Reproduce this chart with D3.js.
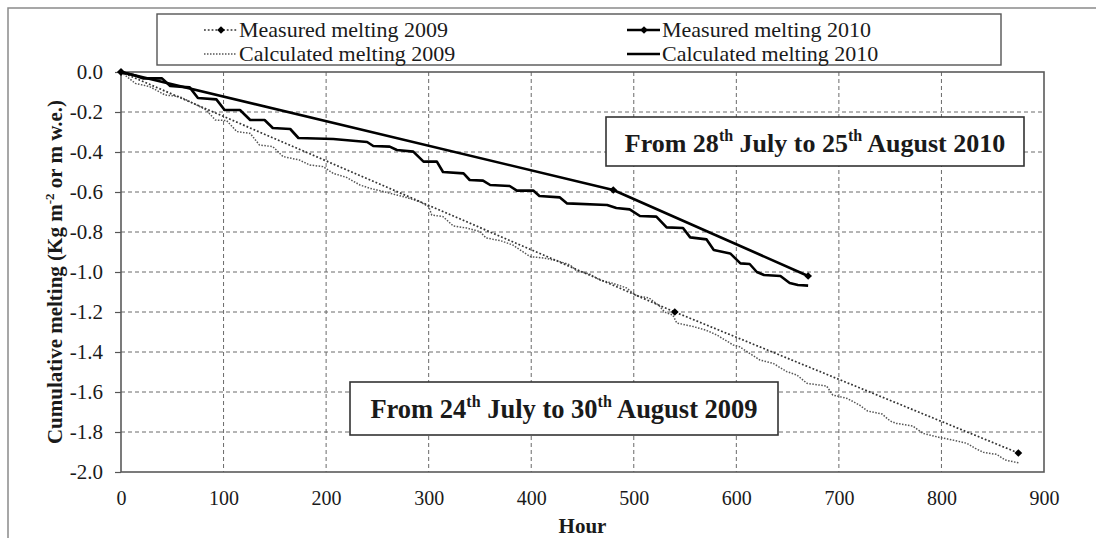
<!DOCTYPE html>
<html>
<head>
<meta charset="utf-8">
<script src="https://cdn.jsdelivr.net/npm/d3@7"></script>
<style>
  html, body { margin: 0; padding: 0; background: #fff; }
  svg { display: block; }
  text { font-family: "Liberation Serif", "Times New Roman", serif; fill: #1a1a1a; }
</style>
</head>
<body>
<svg id="chart" width="1096" height="538"></svg>
<script>
// Axis ticks
const xTicks = [0, 100, 200, 300, 400, 500, 600, 700, 800, 900];
const yTicks = [0, -0.2, -0.4, -0.6, -0.8, -1.0, -1.2, -1.4, -1.6, -1.8, -2.0];

// Measured melting (stake readings)
const measHours2009 = [0, 540, 875];
const measValues2009 = [0, -1.2, -1.905];
const measHours2010 = [0, 480, 670];
const measValues2010 = [0, -0.59, -1.02];

// Calculated cumulative melting, 2009 season
const calcHours2009 = [0, 14, 28, 43, 57, 74, 83, 92, 103, 113, 126, 135, 148, 158, 174, 184, 197, 207, 220, 233,
  243, 256, 265, 278, 291, 300, 303, 314, 324, 337, 350, 356, 370, 382, 399, 412, 425, 438, 444, 457,
  467, 480, 493, 503, 515, 525, 530, 538, 542, 558, 570, 581, 597, 603, 613, 623, 636, 649, 659, 669,
  688, 694, 708, 720, 728, 742, 750, 756, 772, 782, 798, 811, 825, 833, 841, 854, 862, 876];
const calcValues2009 = [0, -0.057, -0.073, -0.115, -0.123, -0.165, -0.19, -0.24, -0.243, -0.298, -0.307, -0.365, -0.373, -0.423, -0.44, -0.465, -0.473, -0.507, -0.527, -0.565,
  -0.582, -0.598, -0.61, -0.627, -0.648, -0.673, -0.715, -0.723, -0.77, -0.78, -0.798, -0.83, -0.843, -0.865, -0.923, -0.93, -0.943, -0.965, -0.993, -1.01,
  -1.04, -1.057, -1.08, -1.12, -1.13, -1.17, -1.2, -1.215, -1.255, -1.273, -1.29, -1.315, -1.365, -1.373, -1.407, -1.44, -1.457, -1.498, -1.515, -1.557,
  -1.57, -1.615, -1.632, -1.665, -1.695, -1.71, -1.745, -1.757, -1.77, -1.807, -1.827, -1.84, -1.857, -1.882, -1.902, -1.912, -1.94, -1.955];

// Calculated cumulative melting, 2010 season
const calcHours2010 = [0, 12, 22, 40, 48, 67, 75, 93, 101, 116, 126, 140, 148, 165, 173, 207, 240, 246, 262, 269,
  285, 295, 308, 314, 334, 340, 353, 360, 379, 386, 402, 408, 428, 435, 474, 483, 496, 506, 522, 532,
  548, 555, 571, 578, 594, 604, 613, 620, 627, 643, 652, 660, 670];
const calcValues2010 = [0, -0.015, -0.032, -0.032, -0.07, -0.077, -0.13, -0.137, -0.19, -0.19, -0.24, -0.24, -0.28, -0.285, -0.33, -0.335, -0.35, -0.37, -0.373, -0.39,
  -0.398, -0.448, -0.448, -0.5, -0.507, -0.54, -0.543, -0.565, -0.57, -0.593, -0.593, -0.62, -0.627, -0.657, -0.665, -0.68, -0.687, -0.72, -0.723, -0.777,
  -0.78, -0.827, -0.837, -0.89, -0.907, -0.957, -0.96, -1.0, -1.015, -1.02, -1.055, -1.065, -1.068];

// Legend entries and period labels
const legendLabels = ["Measured melting 2009", "Calculated melting 2009", "Measured melting 2010", "Calculated melting 2010"];
const period2010 = [["From 28", false], ["th", true], [" July to 25", false], ["th", true], [" August 2010", false]];
const period2009 = [["From 24", false], ["th", true], [" July to 30", false], ["th", true], [" August 2009", false]];

const SERIF = '"Liberation Serif", "Times New Roman", serif';
const svg = d3.select("#chart");
const W = 1096, H = 538;
const plot = { left: 121, right: 1044, top: 72, bottom: 472 };

const x = d3.scaleLinear().domain([0, 900]).range([plot.left, plot.right]);
const y = d3.scaleLinear().domain([-2, 0]).range([plot.bottom, plot.top]);

const zip = (hs, vs) => hs.map((h, i) => [h, vs[i]]);
const line = d3.line().x(d => x(d[0])).y(d => y(d[1]));

// Outer figure frame (only its left and top edges fall inside the page)
svg.append("rect")
  .attr("x", 8).attr("y", 8).attr("width", W + 20).attr("height", H + 20)
  .attr("fill", "none").attr("stroke", "#8a8a8a").attr("stroke-width", 1.5);

// Dashed gridlines
const grid = svg.append("g");
grid.selectAll("line.h").data(yTicks.filter(v => v > -2 && v < 0)).join("line")
  .attr("x1", plot.left).attr("x2", plot.right)
  .attr("y1", d => y(d)).attr("y2", d => y(d))
  .attr("stroke", "#6a6a6a").attr("stroke-width", 1).attr("stroke-dasharray", "4,3");
grid.selectAll("line.v").data(xTicks.filter(v => v > 0 && v < 900)).join("line")
  .attr("x1", d => x(d)).attr("x2", d => x(d))
  .attr("y1", plot.top).attr("y2", plot.bottom)
  .attr("stroke", "#6a6a6a").attr("stroke-width", 1).attr("stroke-dasharray", "4,3");

// Axes (plain hyphen for negative numbers)
const fmtY = d => d3.format(".1f")(d).replace("\u2212", "-");
const yAxis = d3.axisLeft(y).tickValues(yTicks).tickFormat(fmtY).tickSize(6).tickPadding(12);
const gy = svg.append("g").attr("transform", `translate(${plot.left},0)`).call(yAxis)
  .attr("font-family", SERIF).attr("font-size", 21);
gy.select(".domain").remove();
gy.selectAll(".tick line").attr("stroke", "#555").attr("stroke-width", 1.2);
gy.selectAll(".tick text").style("font-family", SERIF).style("font-size", "21px").attr("fill", "#1a1a1a");

const xAxis = d3.axisBottom(x).tickValues(xTicks).tickFormat(d3.format("d")).tickSize(0).tickPadding(19);
const gx = svg.append("g").attr("transform", `translate(0,${plot.bottom})`).call(xAxis)
  .attr("font-family", SERIF).attr("font-size", 20);
gx.select(".domain").remove();
gx.selectAll(".tick text").style("font-family", SERIF).style("font-size", "20px").attr("fill", "#1a1a1a");

// Plot frame
svg.append("rect")
  .attr("x", plot.left).attr("y", plot.top)
  .attr("width", plot.right - plot.left).attr("height", plot.bottom - plot.top)
  .attr("fill", "none").attr("stroke", "#5a5a5a").attr("stroke-width", 1.6);

// Series
const series = svg.append("g");
series.append("path").datum(zip(calcHours2009, calcValues2009))
  .attr("d", line).attr("fill", "none")
  .attr("stroke", "#555").attr("stroke-width", 1.5).attr("stroke-dasharray", "1.5,1.5");
series.append("path").datum(zip(measHours2009, measValues2009))
  .attr("d", line).attr("fill", "none")
  .attr("stroke", "#333").attr("stroke-width", 1.7).attr("stroke-dasharray", "1.8,2");
series.append("path").datum(zip(calcHours2010, calcValues2010))
  .attr("d", line).attr("fill", "none")
  .attr("stroke", "#000").attr("stroke-width", 2.6).attr("stroke-linejoin", "round");
series.append("path").datum(zip(measHours2010, measValues2010))
  .attr("d", line).attr("fill", "none")
  .attr("stroke", "#000").attr("stroke-width", 2.6).attr("stroke-linejoin", "round");

// Diamond markers: a square turned by 45 degrees
const diamond = d3.symbol().type(d3.symbolSquare).size(30);
const markAt = d => `translate(${x(d[0])},${y(d[1])}) rotate(45)`;
series.selectAll("path.m09").data(zip(measHours2009, measValues2009)).join("path")
  .attr("class", "m09").attr("d", diamond).attr("transform", markAt).attr("fill", "#000");
series.selectAll("path.m10").data(zip(measHours2010, measValues2010)).join("path")
  .attr("class", "m10").attr("d", diamond).attr("transform", markAt).attr("fill", "#000");

// Period labels in boxes
function periodBox(parts, bx, by, w, h, baseline, size) {
  const g = svg.append("g");
  g.append("rect").attr("x", bx).attr("y", by).attr("width", w).attr("height", h)
    .attr("fill", "#fff").attr("stroke", "#333").attr("stroke-width", 1.6);
  const t = g.append("text").attr("x", bx + w / 2).attr("y", baseline).attr("text-anchor", "middle")
    .style("font-size", size + "px").style("font-weight", "bold");
  const sup = Math.round(size * 0.62), rise = Math.round(size * 0.42);
  parts.forEach(([s, isSup], i) => {
    const ts = t.append("tspan").text(s);
    if (isSup) ts.style("font-size", sup + "px").attr("dy", -rise);
    else if (i > 0 && parts[i - 1][1]) ts.attr("dy", rise);
  });
}
periodBox(period2010, 606, 117, 418, 49, 152, 26);
periodBox(period2009, 350, 382, 428, 53, 418, 26.5);

// Legend
const lg = svg.append("g");
lg.append("rect").attr("x", 157).attr("y", 14).attr("width", 844).attr("height", 51)
  .attr("fill", "#fff").attr("stroke", "#555").attr("stroke-width", 1.4);
const legendPos = [[204, 30], [204, 54], [627, 30], [627, 54]];
const legendStyle = [
  { stroke: "#333", w: 1.7, dash: "1.8,2", marker: true },
  { stroke: "#555", w: 1.5, dash: "1.5,1.5", marker: false },
  { stroke: "#000", w: 2.4, dash: null, marker: true },
  { stroke: "#000", w: 2.4, dash: null, marker: false }
];
legendLabels.forEach((label, i) => {
  const [lx, ly] = legendPos[i];
  const st = legendStyle[i];
  lg.append("line").attr("x1", lx).attr("x2", lx + 33).attr("y1", ly).attr("y2", ly)
    .attr("stroke", st.stroke).attr("stroke-width", st.w).attr("stroke-dasharray", st.dash);
  if (st.marker) lg.append("path").attr("d", diamond)
    .attr("transform", `translate(${lx + 17},${ly}) rotate(45)`).attr("fill", "#000");
  lg.append("text").attr("x", lx + 35).attr("y", ly + 7).style("font-size", "22px").text(label);
});

// Axis titles
const yt = svg.append("text").attr("transform", "translate(62,272) rotate(-90)")
  .attr("text-anchor", "middle").style("font-size", "21px").style("font-weight", "bold");
yt.append("tspan").text("Cumulative melting (Kg m");
yt.append("tspan").text("-2").style("font-size", "13px").attr("dy", -8);
yt.append("tspan").text(" or m w.e.)").attr("dy", 8);

svg.append("text").attr("x", (plot.left + plot.right) / 2).attr("y", 533)
  .attr("text-anchor", "middle").style("font-size", "21px").style("font-weight", "bold").text("Hour");
</script>
</body>
</html>
